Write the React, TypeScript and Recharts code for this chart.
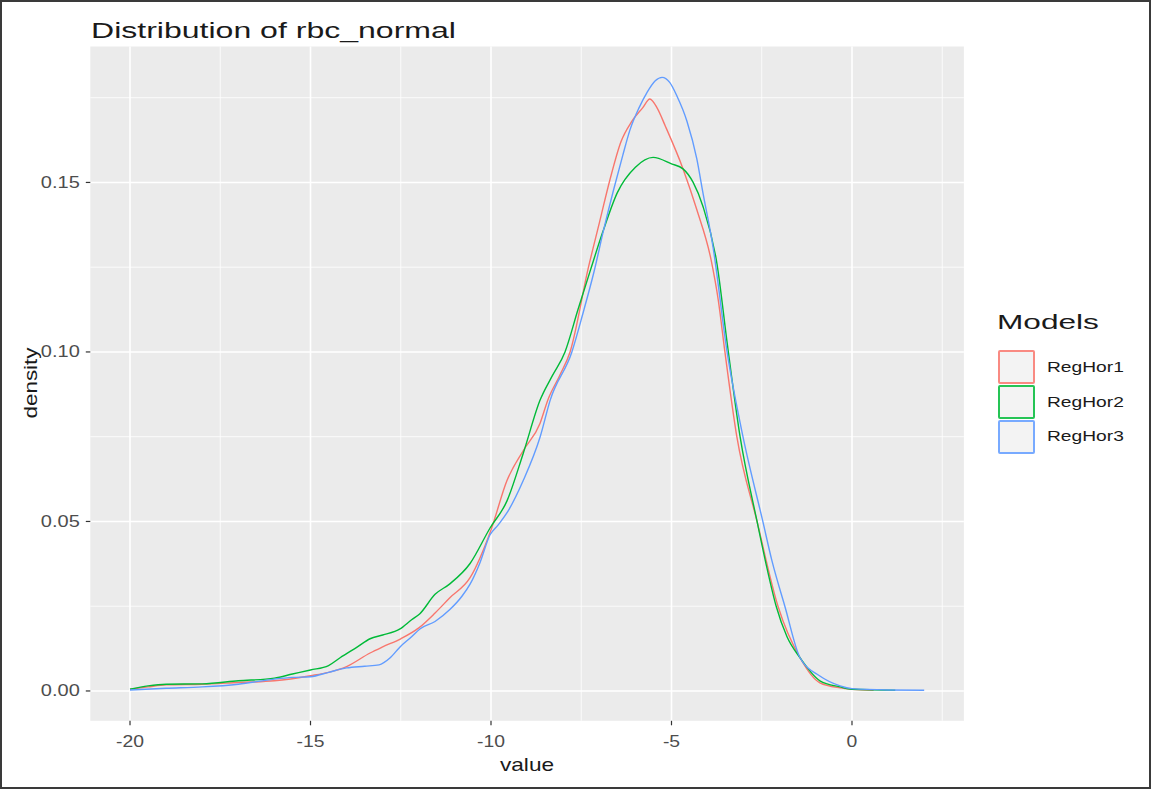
import { CartesianGrid, Line, LineChart, XAxis, YAxis } from "recharts"

// density curves, [value, density]
const regHor1: [number, number][] = [
    [-20, 0.0005], [-19.5, 0.0012], [-19, 0.0018], [-18, 0.002], [-17, 0.0025], [-16, 0.003],
    [-15, 0.0045], [-14.5, 0.0055], [-14, 0.0072], [-13.35, 0.0112], [-13, 0.013], [-12.5, 0.0154],
    [-12, 0.0186], [-11.55, 0.023], [-11.14, 0.0275], [-10.58, 0.0334], [-10, 0.0475], [-9.56, 0.062],
    [-9.1, 0.071], [-8.64, 0.079], [-8.42, 0.086], [-8.1, 0.093], [-7.81, 0.1], [-7.3, 0.125],
    [-7.0, 0.138], [-6.7, 0.151], [-6.4, 0.162], [-6.1, 0.168], [-5.8, 0.172], [-5.6, 0.1746],
    [-5.4, 0.172], [-5.17, 0.1666], [-4.68, 0.154], [-4.3, 0.142], [-3.9, 0.127], [-3.7, 0.115],
    [-3.52, 0.1], [-3.19, 0.075], [-2.63, 0.05], [-2.05, 0.025], [-1.44, 0.0098], [-0.89, 0.0024],
    [-0.33, 0.0009], [0, 0.0005], [0.6, 0.0002],
]

const regHor2: [number, number][] = [
    [-20, 0.0005], [-19.5, 0.0015], [-19, 0.002], [-18, 0.0021], [-17, 0.003], [-16, 0.0038],
    [-15.5, 0.005], [-15, 0.0062], [-14.5, 0.0075], [-14.18, 0.0098], [-13.7, 0.013], [-13.35, 0.0154],
    [-13, 0.0165], [-12.52, 0.0183], [-12.2, 0.021], [-11.97, 0.0228], [-11.55, 0.0285], [-11.14, 0.0316],
    [-10.58, 0.0376], [-10.03, 0.048], [-9.56, 0.056], [-9.11, 0.07], [-8.64, 0.0858], [-8.3, 0.093],
    [-7.95, 0.1], [-7.59, 0.1125], [-7.25, 0.124], [-6.9, 0.1355], [-6.5, 0.147], [-6.0, 0.1545],
    [-5.51, 0.1574], [-5.0, 0.1555], [-4.68, 0.154], [-4.4, 0.15], [-4.13, 0.143], [-3.74, 0.126],
    [-3.45, 0.102], [-3.1, 0.075], [-2.63, 0.05], [-2.35, 0.036], [-2.1, 0.025], [-1.8, 0.016],
    [-1.44, 0.0098], [-0.89, 0.003], [-0.33, 0.0012], [0, 0.0005], [1.2, 0.0002],
]

const regHor3: [number, number][] = [
    [-20, 0.0003], [-19, 0.0008], [-18, 0.0012], [-17, 0.002], [-16, 0.0035], [-15.5, 0.004],
    [-15, 0.0042], [-14.5, 0.0055], [-14, 0.0068], [-13.5, 0.0073], [-13.1, 0.0077], [-12.8, 0.0097],
    [-12.52, 0.013], [-12.2, 0.016], [-11.97, 0.0183], [-11.55, 0.0205], [-11.14, 0.024], [-10.8, 0.028],
    [-10.58, 0.0315], [-10.3, 0.038], [-10.03, 0.046], [-9.8, 0.049], [-9.56, 0.0525], [-9.11, 0.062],
    [-8.64, 0.0749], [-8.36, 0.0858], [-7.76, 0.1], [-7.45, 0.1115], [-7.15, 0.1235], [-6.88, 0.136],
    [-6.6, 0.148], [-6.35, 0.158], [-6.15, 0.1655], [-5.9, 0.172], [-5.68, 0.1765], [-5.45, 0.18],
    [-5.26, 0.181], [-5.05, 0.1795], [-4.85, 0.1755], [-4.57, 0.168], [-4.3, 0.157], [-4.13, 0.147],
    [-3.85, 0.131], [-3.46, 0.1], [-3.02, 0.075], [-2.47, 0.05], [-2.22, 0.0385], [-1.86, 0.025],
    [-1.44, 0.0098], [-0.89, 0.0044], [-0.33, 0.0015], [0, 0.0007], [1, 0.0003], [2, 0.0002],
]

const models = ["RegHor1", "RegHor2", "RegHor3"]
const colors = ["#F8766D", "#00BA38", "#619CFF"]

const xTicks = [-20, -15, -10, -5, 0]
const xMinor = [-17.5, -12.5, -7.5, -2.5, 2.5]
const yTicks = [0, 0.05, 0.1, 0.15]
const yMinor = [0.025, 0.075, 0.125, 0.175]

const font = "'Liberation Sans', Arial, sans-serif"

const series = [regHor1, regHor2, regHor3].map((s) => s.map(([x, y]) => ({ x, y })))

const XTick = (props: any) => {
    const { x, y, payload } = props
    return (
        <text transform={`translate(${x},${y + 7}) scale(1.21,1)`} textAnchor="middle" dominantBaseline="central"
            fill="#4d4d4d" fontSize={16} fontFamily={font}>{payload.value}</text>
    )
}

const YTick = (props: any) => {
    const { x, y, payload } = props
    return (
        <text transform={`translate(${x},${y}) scale(1.25,1)`} textAnchor="end" dominantBaseline="central"
            fill="#4d4d4d" fontSize={16} fontFamily={font}>{Number(payload.value).toFixed(2)}</text>
    )
}

export default function App() {
    return (
        <div style={{ position: "relative", width: 1151, height: 789, background: "#fff", fontFamily: font }}>
            <style>{`body{margin:0}`}</style>
            <LineChart width={1151} height={789} margin={{ top: 46.5, right: 187.1, left: 0, bottom: 0 }}>
                <CartesianGrid fill="#EBEBEB" fillOpacity={1} stroke="#fff" strokeWidth={0.8}
                    verticalValues={xMinor} horizontalValues={yMinor} />
                <CartesianGrid stroke="#fff" strokeWidth={1.6} verticalValues={xTicks} horizontalValues={yTicks} />
                <XAxis dataKey="x" type="number" domain={[-21.1, 3.1]} ticks={xTicks} height={68.2}
                    axisLine={false} tickLine={{ stroke: "#333", strokeWidth: 1.2 }} tickSize={4.5} tickMargin={9}
                    tick={<XTick />} allowDataOverflow />
                <YAxis type="number" domain={[-0.0088, 0.1901]} ticks={yTicks} width={90.3}
                    axisLine={false} tickLine={{ stroke: "#333", strokeWidth: 1.2 }} tickSize={4.5} tickMargin={6}
                    tick={<YTick />} allowDataOverflow />
                {series.map((d, i) => (
                    <Line key={models[i]} data={d} dataKey="y" name={models[i]} type="monotone" stroke={colors[i]}
                        strokeWidth={1.4} dot={false} activeDot={false} isAnimationActive={false} />
                ))}
            </LineChart>

            <div style={{ position: "absolute", left: 91, top: 20, fontSize: 22, lineHeight: 1, color: "#1a1a1a",
                whiteSpace: "nowrap", transform: "scaleX(1.456)", transformOrigin: "left center" }}>
                Distribution of rbc_normal
            </div>

            <div style={{ position: "absolute", left: 527, top: 764, fontSize: 19, lineHeight: 1, color: "#1a1a1a",
                whiteSpace: "nowrap", transform: "translate(-50%,-50%) scaleX(1.19)" }}>
                value
            </div>

            <div style={{ position: "absolute", left: 30, top: 383, fontSize: 19, lineHeight: 1, color: "#1a1a1a",
                whiteSpace: "nowrap", transform: "translate(-50%,-50%) rotate(-90deg) scaleX(1.18)" }}>
                density
            </div>

            <div style={{ position: "absolute", left: 997, top: 312, fontSize: 20, lineHeight: 1, color: "#1a1a1a",
                whiteSpace: "nowrap", transform: "scaleX(1.58)", transformOrigin: "left center" }}>
                Models
            </div>
            {models.map((m, i) => (
                <div key={m}>
                    <div style={{ position: "absolute", left: 998, top: 350 + i * 35, width: 33, height: 30,
                        background: "#F2F2F2", border: `2px solid ${colors[i]}`, borderRadius: 2, opacity: 0.85 }} />
                    <div style={{ position: "absolute", left: 1047, top: 359 + i * 34.5, fontSize: 15, lineHeight: 1,
                        color: "#1a1a1a", whiteSpace: "nowrap", transform: "scaleX(1.28)", transformOrigin: "left center" }}>
                        {m}
                    </div>
                </div>
            ))}

            <div style={{ position: "absolute", left: 0, top: 0, width: 1151, height: 789, boxSizing: "border-box",
                border: "2px solid #3a3a3a", pointerEvents: "none" }} />
        </div>
    )
}
